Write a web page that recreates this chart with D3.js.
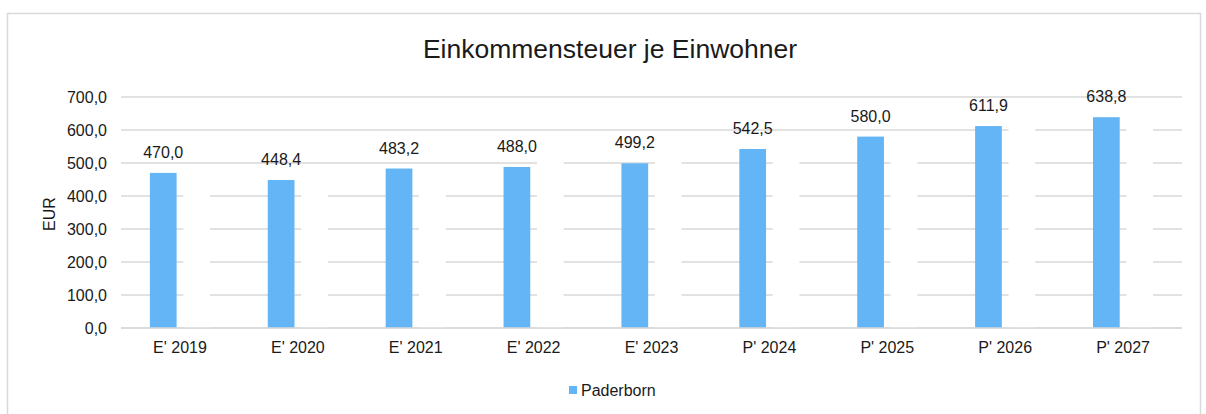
<!DOCTYPE html>
<html>
<head>
<meta charset="utf-8">
<script src="https://cdn.jsdelivr.net/npm/d3@7"></script>
<style>
  body { margin: 0; background: #fff; }
  svg { display: block; font-family: "Liberation Sans", Arial, sans-serif; }
</style>
</head>
<body>
<svg id="chart" width="1206" height="414"></svg>
<script>
// data
const categories = ["E' 2019", "E' 2020", "E' 2021", "E' 2022", "E' 2023", "P' 2024", "P' 2025", "P' 2026", "P' 2027"]
const paderborn = [470.0, 448.4, 483.2, 488.0, 499.2, 542.5, 580.0, 611.9, 638.8]
// second series is drawn in white in the original (only visible as gaps in the gridlines)
const hidden = [455, 445, 475, 505, 515, 545, 585, 620, 650]
const yTicks = [0, 100, 200, 300, 400, 500, 600, 700]

const locale = d3.formatLocale({ decimal: ',', thousands: '.', grouping: [3], currency: ['', ' €'] })
const fmt = locale.format('.1f')

const svg = d3.select('#chart')

// outer frame
svg.append('rect')
  .attr('x', 7.5).attr('y', 13.5)
  .attr('width', 1193).attr('height', 420)
  .attr('fill', 'none')
  .attr('stroke', '#d9d9d9')
  .attr('stroke-width', 1.5)

// title
svg.append('text')
  .attr('x', 610).attr('y', 58)
  .attr('text-anchor', 'middle')
  .style('font-size', '26.5px')
  .style('fill', '#1a1a1a')
  .text('Einkommensteuer je Einwohner')

const plotLeft = 121, plotRight = 1182, plotTop = 97, plotBottom = 328

const x = d3.scaleBand()
  .domain(categories)
  .range([plotLeft, plotRight])
  .paddingInner(0.49)
  .paddingOuter(0.245)

const xSub = d3.scaleBand()
  .domain(['paderborn', 'hidden'])
  .range([0, x.bandwidth()])
  .paddingInner(0.2)

const y = d3.scaleLinear()
  .domain([0, 700])
  .range([plotBottom, plotTop])

// gridlines
svg.append('g')
  .selectAll('line')
  .data(yTicks)
  .enter()
  .append('line')
  .attr('x1', plotLeft).attr('x2', plotRight)
  .attr('y1', d => y(d)).attr('y2', d => y(d))
  .style('stroke', '#d9d9d9')
  .style('stroke-width', 1.5)

// y axis labels
const yAxis = svg.append('g')
  .attr('transform', `translate(${plotLeft - 4},0)`)
  .call(d3.axisLeft(y).tickValues(yTicks).tickFormat(fmt).tickSize(0).tickPadding(10))
yAxis.select('.domain').remove()
yAxis.selectAll('text')
  .style('font-size', '16px')
  .style('font-family', '"Liberation Sans", Arial, sans-serif')
  .style('fill', '#1a1a1a')

// y axis title
svg.append('text')
  .attr('transform', 'translate(55,214) rotate(-90)')
  .attr('text-anchor', 'middle')
  .style('font-size', '16px')
  .style('fill', '#1a1a1a')
  .text('EUR')

// x axis labels
const xAxis = svg.append('g')
  .attr('transform', `translate(0,${plotBottom})`)
  .call(d3.axisBottom(x).tickSize(0).tickPadding(14))
xAxis.select('.domain').remove()
xAxis.selectAll('text')
  .style('font-size', '16px')
  .style('font-family', '"Liberation Sans", Arial, sans-serif')
  .style('fill', '#1a1a1a')

// hidden (white) series
svg.append('g')
  .selectAll('rect')
  .data(hidden)
  .enter()
  .append('rect')
  .attr('x', (d, i) => x(categories[i]) + xSub('hidden'))
  .attr('y', d => y(d))
  .attr('width', xSub.bandwidth())
  .attr('height', d => y(0) - y(d))
  .style('fill', '#ffffff')

// Paderborn bars
svg.append('g')
  .selectAll('rect')
  .data(paderborn)
  .enter()
  .append('rect')
  .attr('x', (d, i) => x(categories[i]) + xSub('paderborn'))
  .attr('y', d => y(d))
  .attr('width', xSub.bandwidth())
  .attr('height', d => y(0) - y(d))
  .style('fill', '#64b5f6')

// value labels
svg.append('g')
  .selectAll('text')
  .data(paderborn)
  .enter()
  .append('text')
  .attr('x', (d, i) => x(categories[i]) + xSub('paderborn') + xSub.bandwidth() / 2)
  .attr('y', d => y(d) - 15)
  .attr('text-anchor', 'middle')
  .style('font-size', '16px')
  .style('fill', '#1a1a1a')
  .text(d => fmt(d))

// baseline
svg.append('line')
  .attr('x1', plotLeft).attr('x2', plotRight)
  .attr('y1', y(0)).attr('y2', y(0))
  .style('stroke', '#d9d9d9')
  .style('stroke-width', 1.5)

// legend
const legend = svg.append('g').attr('transform', 'translate(569,386)')
legend.append('rect')
  .attr('width', 8).attr('height', 8)
  .style('fill', '#64b5f6')
legend.append('text')
  .attr('x', 12).attr('y', 9.5)
  .style('font-size', '16px')
  .style('fill', '#1a1a1a')
  .text('Paderborn')
</script>
</body>
</html>
